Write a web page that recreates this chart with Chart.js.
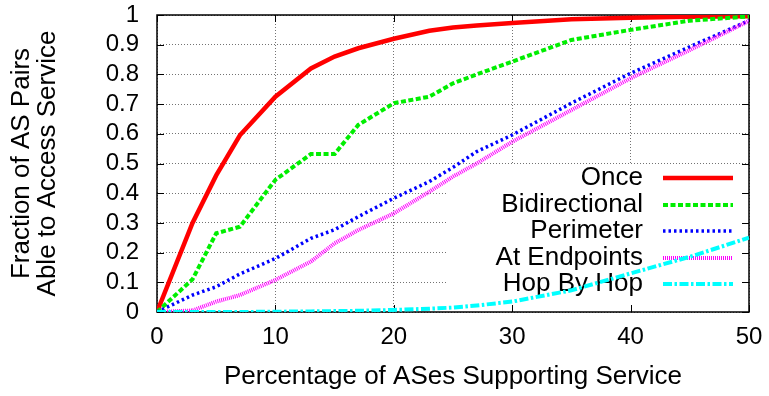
<!DOCTYPE html>
<html>
<head>
<meta charset="utf-8">
<script src="https://cdn.jsdelivr.net/npm/chart.js@4.4.1/dist/chart.umd.min.js"></script>
<style>
  html, body { margin: 0; padding: 0; background: #fff; }
  #wrap { width: 769px; height: 396px; position: relative; }
</style>
</head>
<body>
<div id="wrap"><canvas id="c"></canvas></div>
<script>
// ---- data ----
const xValues = [0, 3, 5, 7, 10, 13, 15, 17, 20, 23, 25, 27, 30, 35, 40, 45, 50];
const onceY = [0, 0.30, 0.46, 0.595, 0.725, 0.82, 0.86, 0.888, 0.92, 0.947, 0.958, 0.965, 0.973, 0.986, 0.991, 0.994, 0.996];
const bidirectionalY = [0, 0.11, 0.265, 0.287, 0.445, 0.532, 0.532, 0.63, 0.703, 0.725, 0.77, 0.80, 0.843, 0.916, 0.95, 0.981, 0.995];
const perimeterY = [0, 0.057, 0.085, 0.128, 0.18, 0.248, 0.277, 0.321, 0.383, 0.439, 0.487, 0.54, 0.596, 0.703, 0.804, 0.893, 0.981];
const endpointsY = [0, 0.005, 0.035, 0.057, 0.108, 0.17, 0.231, 0.276, 0.332, 0.405, 0.456, 0.50, 0.573, 0.68, 0.787, 0.882, 0.98];
const hopByHopY = [0, 0, 0, 0, 0.001, 0.002, 0.003, 0.004, 0.007, 0.011, 0.015, 0.022, 0.035, 0.073, 0.13, 0.186, 0.25];
const seriesLabels = ['Once', 'Bidirectional', 'Perimeter', 'At Endpoints', 'Hop By Hop'];
const xTickValues = [0, 10, 20, 30, 40, 50];
const yTickValues = [0, 0.1, 0.2, 0.3, 0.4, 0.5, 0.6, 0.7, 0.8, 0.9, 1];
const xTitle = 'Percentage of ASes Supporting Service';
const yTitle = ['Fraction of AS Pairs', 'Able to Access Service'];

const FONT = '"Liberation Sans", Arial, Helvetica, sans-serif';
const toPts = ys => xValues.map((x, i) => ({ x: x, y: ys[i] }));

const styles = [
  { color: '#ff0000', width: 4.5, dash: [] },
  { color: '#00ee00', width: 4, dash: [5, 2.5] },
  { color: '#0000ff', width: 3.5, dash: [2.5, 3] },
  { color: '#ff00ff', width: 4, dash: [1, 1] },
  { color: '#00ffff', width: 4, dash: [9, 2.5, 2.5, 2.5] }
];
const seriesData = [onceY, bidirectionalY, perimeterY, endpointsY, hopByHopY];

// Chart.js draws the last dataset first; list reversed so Hop By Hop ends on top
const datasets = seriesData.map((ys, i) => ({
  label: seriesLabels[i],
  data: toPts(ys),
  borderColor: styles[i].color,
  backgroundColor: styles[i].color,
  borderWidth: styles[i].width,
  borderDash: styles[i].dash,
  borderCapStyle: 'butt',
  pointRadius: 0,
  tension: 0,
  fill: false,
  order: seriesData.length - i
}));

const gnuplotDecor = {
  id: 'gnuplotDecor',
  beforeDatasetsDraw(chart) {
    const { ctx, chartArea: a, scales } = chart;
    ctx.save();
    // legend box (opaque, hides grid)
    ctx.font = '26px ' + FONT;
    let maxW = 0;
    seriesLabels.forEach(l => { maxW = Math.max(maxW, ctx.measureText(l).width); });
    const textRight = a.right - 106;
    const boxLeft = textRight - maxW - 48;
    const boxTop = a.top + 150;
    ctx.fillStyle = '#fff';
    ctx.fillRect(boxLeft, boxTop, a.right - boxLeft, a.bottom - boxTop);
    // frame
    ctx.strokeStyle = '#000';
    ctx.lineWidth = 1.5;
    ctx.setLineDash([]);
    ctx.strokeRect(a.left, a.top, a.right - a.left, a.bottom - a.top);
    // inward ticks on all four sides
    ctx.lineWidth = 1;
    const tl = 7;
    ctx.beginPath();
    xTickValues.forEach(v => {
      const px = Math.round(scales.x.getPixelForValue(v)) + 0.5;
      ctx.moveTo(px, a.bottom); ctx.lineTo(px, a.bottom - tl);
      ctx.moveTo(px, a.top); ctx.lineTo(px, a.top + tl);
    });
    yTickValues.forEach(v => {
      const py = Math.round(scales.y.getPixelForValue(v)) + 0.5;
      ctx.moveTo(a.left, py); ctx.lineTo(a.left + tl, py);
      ctx.moveTo(a.right, py); ctx.lineTo(a.right - tl, py);
    });
    ctx.stroke();
    // legend entries
    ctx.font = '26px ' + FONT;
    ctx.textAlign = 'right';
    ctx.textBaseline = 'middle';
    const lineL = Math.round(a.right - 86), lineR = Math.round(a.right - 16);
    seriesLabels.forEach((l, i) => {
      const y = Math.round(a.top + 163 + i * 26.5);
      ctx.fillStyle = '#000';
      ctx.fillText(l, textRight, y);
      ctx.beginPath();
      ctx.strokeStyle = styles[i].color;
      ctx.lineWidth = styles[i].width;
      ctx.lineCap = 'butt';
      ctx.setLineDash(styles[i].dash);
      ctx.moveTo(lineL, y);
      ctx.lineTo(lineR, y);
      ctx.stroke();
    });
    ctx.restore();
  }
};

new Chart(document.getElementById('c'), {
  type: 'line',
  data: { datasets: datasets },
  options: {
    responsive: true,
    maintainAspectRatio: false,
    animation: false,
    layout: { padding: { left: 0, right: 20, top: 15, bottom: 0 } },
    plugins: { legend: { display: false }, tooltip: { enabled: false } },
    scales: {
      x: {
        type: 'linear',
        min: 0, max: 50,
        afterBuildTicks: s => { s.ticks = xTickValues.map(v => ({ value: v })); },
        afterFit: s => { s.height = 84; },
        ticks: { color: '#000', font: { family: FONT, size: 24 }, padding: 0, maxRotation: 0, autoSkip: false },
        grid: { color: 'rgba(0,0,0,0.55)', lineWidth: 1, drawTicks: true, tickLength: 11, tickColor: 'rgba(0,0,0,0)' },
        border: { display: false, dash: [1, 2] },
        title: { display: true, text: xTitle, color: '#000', font: { family: FONT, size: 26 }, padding: { top: 0, bottom: 4 } }
      },
      y: {
        type: 'linear',
        min: 0, max: 1,
        afterBuildTicks: s => { s.ticks = yTickValues.map(v => ({ value: v })); },
        afterFit: s => { s.width = 157; },
        ticks: {
          color: '#000', font: { family: FONT, size: 24 }, padding: 0, autoSkip: false,
          callback: v => (v === 0 ? '0' : v === 1 ? '1' : v.toFixed(1))
        },
        grid: { color: 'rgba(0,0,0,0.55)', lineWidth: 1, drawTicks: true, tickLength: 18, tickColor: 'rgba(0,0,0,0)' },
        border: { display: false, dash: [1, 2] },
        title: { display: true, text: yTitle, color: '#000', font: { family: FONT, size: 26, lineHeight: 1.0 }, padding: { top: 9, bottom: 0 } }
      }
    }
  },
  plugins: [gnuplotDecor]
});
</script>
</body>
</html>
